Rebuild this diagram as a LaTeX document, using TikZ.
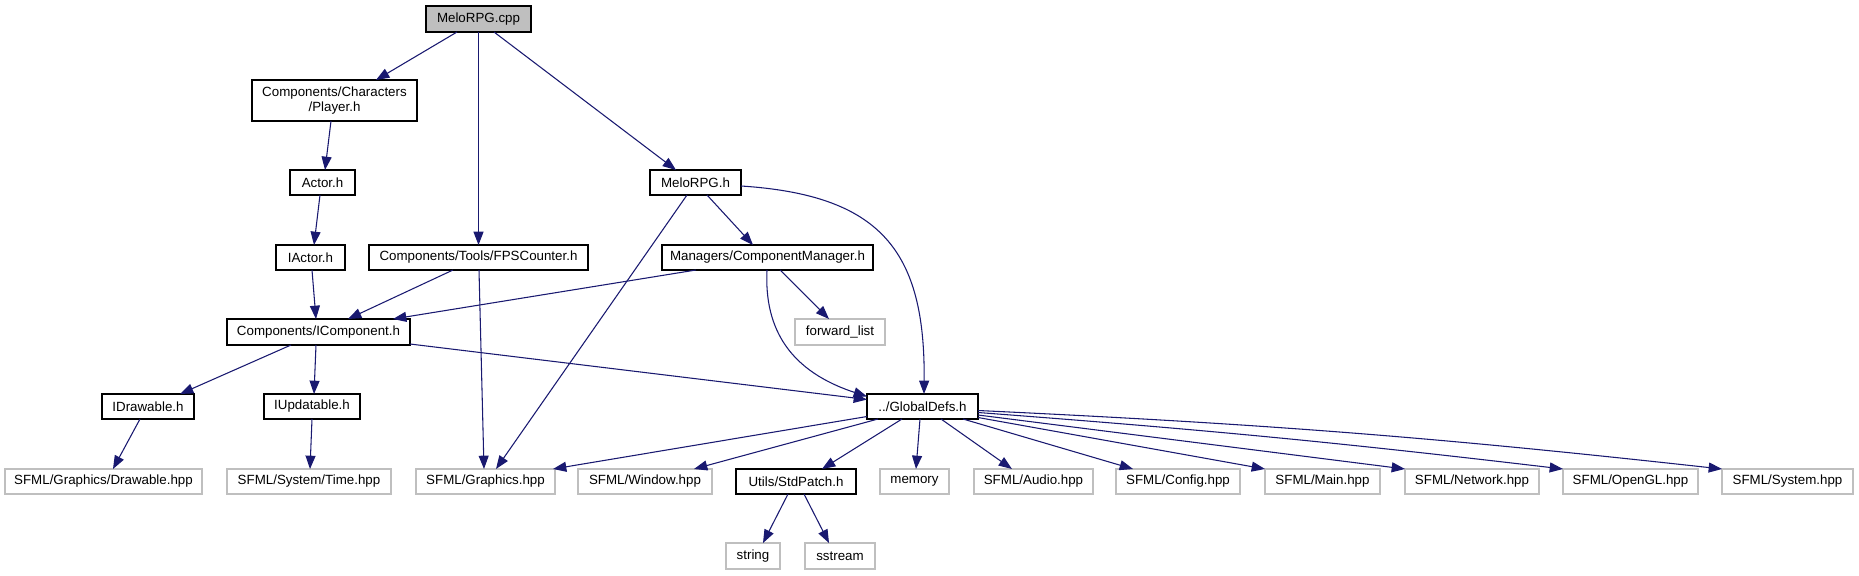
\documentclass[tikz,border=0pt]{standalone}
\usepackage{fontspec}
\setmainfont{Liberation Sans}
\usetikzlibrary{arrows.meta,calc}
\definecolor{edgeblue}{HTML}{191970}
\definecolor{lightbd}{HTML}{BFBFBF}
\definecolor{rootfill}{HTML}{BFBFBF}
\begin{document}
\begin{tikzpicture}[x=0.75pt,y=-0.75pt,
  every node/.style={font=\fontsize{10}{11.5}\selectfont, inner sep=0pt, outer sep=0pt, text=black},
  box/.style={draw=black, line width=0.9pt, fill=white, minimum height=18.75pt},
  extbox/.style={draw=lightbd, line width=0.9pt, fill=white, minimum height=18.75pt},
  rootbox/.style={draw=black, line width=0.9pt, fill=rootfill, minimum height=19.5pt},
  dep/.style={draw=edgeblue, line width=0.8pt, -{Triangle[length=10pt,width=7.5pt]}, color=edgeblue}]
\useasboundingbox (0,0) rectangle (1859,575);
% nodes
\node[rootbox, minimum width=78.75pt] (cpp) at (478.5,19) {MeloRPG.cpp};
\node[box, minimum width=123.75pt, minimum height=30.75pt, align=center] (player) at (334.5,100.5) {Components/Characters\\/Player.h};
\node[box, minimum width=48.75pt] (actor) at (322.5,182.5) {Actor.h};
\node[box, minimum width=51.75pt] (iactor) at (310.5,257.5) {IActor.h};
\node[box, minimum width=164.25pt] (fps) at (478.5,257.5) {Components/Tools/FPSCounter.h};
\node[box, minimum width=68.25pt] (meloh) at (695.5,182.5) {MeloRPG.h};
\node[box, minimum width=158.25pt] (cmgr) at (767.5,257.5) {Managers/ComponentManager.h};
\node[extbox, minimum width=67.5pt, minimum height=19.5pt] (fwd) at (840,332) {forward\_list};
\node[box, minimum width=137.25pt, minimum height=19.5pt] (icomp) at (318.5,332) {Components/IComponent.h};
\node[box, minimum width=69pt] (idraw) at (148,406.5) {IDrawable.h};
\node[box, minimum width=72pt] (iupd) at (312,406.5) {IUpdatable.h};
\node[box, minimum width=83.25pt] (glob) at (922.5,406.5) {../GlobalDefs.h};
\node[extbox, minimum width=147.75pt] (drawhpp) at (103.5,481.5) {SFML/Graphics/Drawable.hpp};
\node[extbox, minimum width=123pt] (time) at (309,481.5) {SFML/System/Time.hpp};
\node[extbox, minimum width=104.25pt] (gfx) at (485.5,481.5) {SFML/Graphics.hpp};
\node[extbox, minimum width=100.5pt] (win) at (645,481.5) {SFML/Window.hpp};
\node[box, minimum width=90pt] (std) at (796,481.5) {Utils/StdPatch.h};
\node[extbox, minimum width=51.75pt] (mem) at (914.5,481.5) {memory};
\node[extbox, minimum width=89.25pt] (audio) at (1033.5,481.5) {SFML/Audio.hpp};
\node[extbox, minimum width=93pt] (config) at (1178,481.5) {SFML/Config.hpp};
\node[extbox, minimum width=86.25pt] (main) at (1322.5,481.5) {SFML/Main.hpp};
\node[extbox, minimum width=100.5pt] (net) at (1472,481.5) {SFML/Network.hpp};
\node[extbox, minimum width=101.25pt] (gl) at (1630.5,481.5) {SFML/OpenGL.hpp};
\node[extbox, minimum width=98.25pt] (sys) at (1787.5,481.5) {SFML/System.hpp};
\node[extbox, minimum width=40.5pt, minimum height=19.5pt] (string) at (753,556) {string};
\node[extbox, minimum width=52.5pt, minimum height=19.5pt] (sstream) at (840,556) {sstream};
% edges
\draw[dep] ($(cpp.south)+(-21.5,0)$) -- ($(player.north)+(41.5,0)$);
\draw[dep] (cpp.south) -- (fps.north);
\draw[dep] ($(cpp.south)+(15.5,0)$) -- ($(meloh.north)+(-19.5,0)$);
\draw[dep] ($(player.south)+(-3.5,0)$) -- ($(actor.north)+(2.5,0)$);
\draw[dep] ($(actor.south)+(-2.5,0)$) -- ($(iactor.north)+(3.5,0)$);
\draw[dep] ($(iactor.south)+(1.5,0)$) -- ($(icomp.north)+(-2.5,0)$);
\draw[dep] ($(fps.south)+(-25.5,0)$) -- ($(icomp.north)+(29.5,0)$);
\draw[dep] ($(fps.south)+(0.5,0)$) -- ($(gfx.north)+(-1.5,0)$);
\draw[dep] ($(meloh.south)+(-8.5,0)$) -- ($(gfx.north)+(10.5,0)$);
\draw[dep] ($(meloh.south)+(11.5,0)$) -- ($(cmgr.north)+(-14.5,0)$);
\draw[dep] ($(meloh.east)+(0,3.5)$) .. controls +(139,9) and +(1.5,-144) .. ($(glob.north)+(1.5,0)$);
\draw[dep] ($(cmgr.south)+(-71.5,0)$) -- ($(icomp.north)+(74.5,0)$);
\draw[dep] ($(cmgr.south)+(12.5,0)$) -- ($(fwd.north)+(-11,0)$);
\draw[dep] ($(cmgr.south)+(-0.5,0)$) .. controls +(-3,60) and +(-76,-25) .. ($(glob.west)+(0,-10)$);
\draw[dep] ($(icomp.south)+(-27.5,0)$) -- ($(idraw.north)+(32,0)$);
\draw[dep] ($(icomp.south)+(-2.5,0)$) -- ($(iupd.north)+(2,0)$);
\draw[dep] ($(icomp.east)+(0,12)$) -- ($(glob.west)+(0,-7)$);
\draw[dep] ($(idraw.south)+(-8,0)$) -- ($(drawhpp.north)+(9.5,0)$);
\draw[dep] (iupd.south) -- ($(time.north)+(1,0)$);
\draw[dep] ($(glob.west)+(0,10)$) -- ($(gfx.north east)+(-2,0)$);
\draw[dep] ($(glob.south)+(-44.5,0)$) -- ($(win.north)+(49,0)$);
\draw[dep] ($(glob.south)+(-20.5,0)$) -- ($(std.north)+(26,0)$);
\draw[dep] ($(glob.south)+(-2.5,0)$) -- ($(mem.north)+(1.5,0)$);
\draw[dep] ($(glob.south)+(18.5,0)$) -- ($(audio.north)+(-21.5,0)$);
\draw[dep] ($(glob.south)+(40.5,0)$) -- ($(config.north)+(-45,0)$);
\draw[dep] ($(glob.east)+(0,11)$) -- (main.north west);
\draw[dep] ($(glob.east)+(0,8.5)$) -- (net.north west);
\draw[dep] ($(glob.east)+(0,6)$) to[bend left=1.2] (gl.north west);
\draw[dep] ($(glob.east)+(0,4)$) to[bend left=1.8] (sys.north west);
\draw[dep] ($(std.south)+(-8,0)$) -- ($(string.north)+(10,0)$);
\draw[dep] ($(std.south)+(8,0)$) -- ($(sstream.north)+(-11,0)$);
\end{tikzpicture}
\end{document}
